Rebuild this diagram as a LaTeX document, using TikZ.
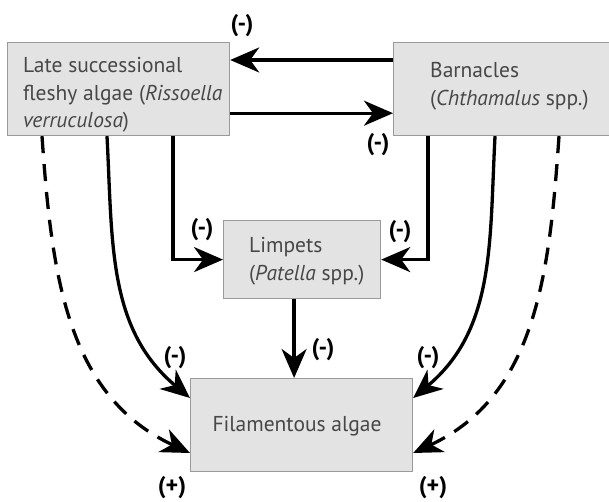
\documentclass[tikz,border=0pt]{standalone}
\usepackage{fontspec}
\setmainfont{PT Sans}
\usetikzlibrary{arrows.meta}
\definecolor{boxfill}{HTML}{E3E3E3}
\definecolor{boxline}{HTML}{9A9A9A}
\definecolor{txt}{HTML}{474747}
\tikzset{
  box/.style={draw=boxline, line width=1.2pt, fill=boxfill, rectangle, anchor=north west, inner sep=0pt},
  txtn/.style={text=txt, font=\fontsize{21.5}{27.5}\selectfont, inner sep=0pt},
  arr/.style={line width=3.3pt, -{Stealth[length=29pt,width=25pt,inset=9pt]}},
  dsh/.style={arr, dash pattern=on 17pt off 11pt},
  sign/.style={font=\bfseries\fontsize{24}{26}\selectfont, inner sep=0pt}
}
\newcommand{\lines}[1]{\begin{tabular}[t]{@{}l@{}}#1\end{tabular}}
\begin{document}
\begin{tikzpicture}[x=1pt,y=1pt]
\useasboundingbox (0,0) rectangle (609,502);
% boxes
\node[box, minimum width=222pt, minimum height=93pt] (L) at (7,460) {};
\node[box, minimum width=222pt, minimum height=93pt] (B) at (393,460) {};
\node[box, minimum width=157pt, minimum height=78pt] (P) at (223,282) {};
\node[box, minimum width=222pt, minimum height=93pt] (F) at (190,124) {};
% texts
\node[txtn, anchor=base west] (Lt) at (23,429)
  {\lines{Late successional\\fleshy algae (\textit{Rissoella}\\\textit{verruculosa})}};
\node[txtn, anchor=base west] (Bt) at (430,424)
  {\lines{Barnacles\\(\textit{Chthamalus} spp.)}};
\node[txtn, anchor=base west] (Pt) at (249,249)
  {\lines{Limpets\\(\textit{Patella} spp.)}};
\node[txtn, anchor=base] (Ft) at (297,70) {Filamentous algae};
% arrows between top boxes
\draw[arr] ([yshift=-18pt]B.north west) -- ([yshift=-18pt]L.north east);
\draw[arr] ([yshift=23pt]L.south east) -- ([yshift=23pt]B.south west);
% elbows to limpets
\draw[arr] ([xshift=166pt]L.south west) |- (P.west);
\draw[arr] ([xshift=35pt]B.south west) |- (P.east);
% limpets to filamentous
\draw[arr] ([xshift=-8pt]P.south) -- ([xshift=-8pt]P.south |- F.north);
% curves
\draw[arr] ([xshift=100pt]L.south west) to[out=-87,in=140] ([yshift=-20pt]F.north west);
\draw[arr] ([xshift=102pt]B.south west) to[out=-93,in=40] ([yshift=-20pt]F.north east);
\draw[dsh] ([xshift=35pt]L.south west) to[out=-86,in=155] ([yshift=-75pt]F.north west);
\draw[dsh] ([xshift=166pt]B.south west) to[out=-94,in=25] ([yshift=-75pt]F.north east);
% signs
\node[sign] (s1) at (242,476) {(-)};
\node[sign] (s2) at (378,357) {(-)};
\node[sign] (s3) at (202,272) {(-)};
\node[sign] (s4) at (400,270) {(-)};
\node[sign] (s5) at (323,152) {(-)};
\node[sign] (s6) at (175,144) {(-)};
\node[sign] (s7) at (428,144) {(-)};
\node[sign] (s8) at (172,14) {(+)};
\node[sign] (s9) at (433,14) {(+)};
\end{tikzpicture}
\end{document}
